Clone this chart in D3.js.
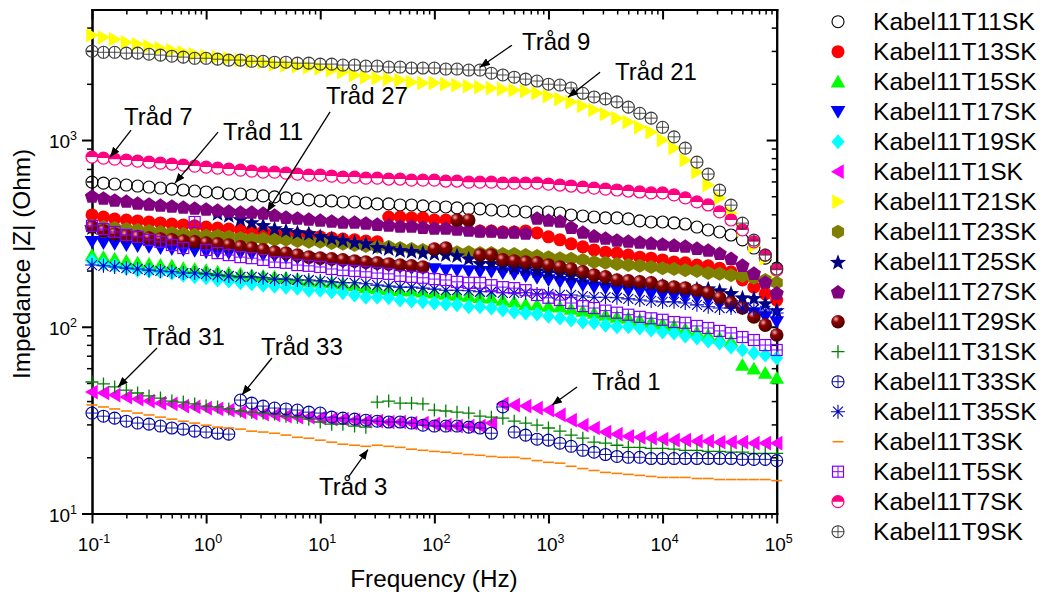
<!DOCTYPE html>
<html>
<head>
<meta charset="utf-8">
<script src="https://cdn.jsdelivr.net/npm/d3@7"></script>
<style>
  body { margin: 0; background: #fff; }
  svg { font-family: "Liberation Sans", Arial, sans-serif; }
</style>
</head>
<body>
<svg id="chart" width="1048" height="599"></svg>
<script>
// frequency grid (Hz), 10 points per decade
const freq = [0.1,0.126,0.158,0.2,0.251,0.316,0.398,0.501,0.631,0.794,
  1,1.26,1.58,2,2.51,3.16,3.98,5.01,6.31,7.94,
  10,12.6,15.8,20,25.1,31.6,39.8,50.1,63.1,79.4,
  100,126,158,200,251,316,398,501,631,794,
  1000,1260,1580,2000,2510,3160,3980,5010,6310,7940,
  10000,12600,15800,20000,25100,31600,39800,50100,63100,79400,100000];

// |Z| in Ohm
const kabel11T11 = [595,588,581,574,567,560,553,546,540,533, 527,521,514,514,508,502,496,490,484,478,
  472,472,466,466,460,455,455,449,449,444, 438,438,433,428,428,422,417,417,412,412,
  412,407,397,392,387,383,383,378,369,364, 364,360,355,342,330,322,310,292,264,233, 206];
const kabel11T13 = [397,387,378,373,369,364,360,355,351,347, 342,338,334,330,326,322,318,314,310,307,
  303,299,295,292,288,285,387,387,383,383, 373,373,369,369,326,326,322,322,326,318,
  303,292,278,268,258,251,248,242,236,233, 228,222,220,214,212,206,197,178,163,150, 139];
const kabel11T15 = [242,236,231,225,220,217,214,212,206,204, 201,197,194,192,189,187,185,183,180,176,
  174,172,170,167,163,161,159,157,156,154, 152,150,148,146,144,143,139,136,132,131,
  129,128,124.5,121.5,118.5,115.6,112.8,111.4,108.7,106, 103.5,101,97.3,93.7,90.3,87,83.9,62.5,59.5,56.6, 53.2];
const kabel11T17 = [285,281,278,274,271,268,264,261,258,255, 251,251,248,248,245,242,239,236,233,231,
  228,225,222,220,217,214,212,209,206,206, 204,201,201,199,197,197,194,192,187,183,
  178,174,170,167,163,161,157,156,154,150, 148,146,144,143,139,134,129,126,118.5,112.8, 106];
const kabel11T19 = [225,217,212,206,201,199,197,194,189,185, 183,178,176,172,170,167,165,163,161,157,
  157,154,152,148,144,144,143,139,137.5,136, 134,132.5,131,128,128,126,123,120,118.5,117,
  114,111.4,108.7,106,105,102,100,100,98.5,96, 93.7,92.6,89.2,87,83.9,81.8,77.9,75.1,72.3,70.6, 68];
const kabel11T1 = [44.7,44.2,43.1,42.0,41.0,40.0,39.0,38.6,37.6,37.2, 36.7,36.3,35.8,34.9,34.5,34.1,33.7,33.2,32.8,32.8,
  32.4,32.0,32.0,31.6,31.2,31.2,30.9,30.9,30.5,30.5, 30.1,29.7,29.4,29.4,29.4,30.5,38.6,38.1,37.6,36.7,
  35.8,33.7,31.6,29.7,28.7,27.3,26.6,25.9,25.6,25.3, 25.0,24.7,24.7,24.4,24.4,24.1,24.1,24.1,23.8,23.8, 23.8];
const kabel11T21 = [3645,3550,3465,3339,3258,3179,3101,3025,2951,2880, 2810,2776,2741,2675,2643,2606,2542,2511,2477,2447,
  2417,2367,2309,2226,2171,2145,2118,2093,2042,2017, 2017,1992,1967,1943,1919,1896,1872,1849,1826,1782,
  1717,1656,1596,1521,1446,1377,1310,1247,1172,1102, 999,905,780,672,574,489,407,330,270,232, 200];
const kabel11T23 = [347,342,338,334,330,326,322,318,314,310, 307,307,303,299,295,295,292,292,288,285,
  285,281,278,274,271,268,268,264,261,258, 258,255,251,251,248,248,245,245,242,239,
  236,233,231,228,222,220,217,214,212,209, 206,204,201,199,194,192,189,187,183,178, 172];
const kabel11T25 = [342,326,314,307,303,299,295,292,288,285, 281,407,397,378,364,351,338,330,322,318,
  307,299,292,285,281,268,264,258,255,251, 248,245,242,233,220,220,214,209,206,201,
  197,194,189,185,183,178,178,174,174,172, 167,163,161,161,161,157,152,144,143,134, 123];
const kabel11T27 = [502,490,478,472,460,455,449,444,438,433, 428,422,417,412,412,407,397,387,383,378,
  373,369,364,364,360,355,351,347,347,342, 338,338,334,330,326,326,322,322,318,383,
  373,369,342,322,307,299,292,288,285,281, 278,274,271,264,258,248,233,214,194,174, 152];
const kabel11T29 = [342,326,314,307,303,299,295,292,288,285, 281,278,274,268,264,258,251,248,242,236,
  233,231,228,225,222,220,217,214,212,209, 261,264,373,373,242,242,228,225,222,220,
  214,209,204,197,189,185,178,176,174,172, 165,163,161,157,152,143,134,126,112.8,102, 90.3];
const kabel11T31 = [50.6,49.4,47.6,45.8,44.2,42.6,41.5,40.0,39.5,38.6, 37.6,37.2,36.3,35.4,34.9,34.5,34.1,33.2,32.8,32.0,
  30.9,30.1,30.1,29.4,29.0,39.5,40.0,39.0,39.0,38.6, 35.8,35.4,34.9,34.5,33.2,32.8,32.4,31.2,30.5,29.7,
  28.7,27.6,26.3,25.3,24.1,23.8,23.2,22.6,22.6,22.3, 22.3,22.1,21.8,21.8,21.5,21.5,21.3,21.3,21.0,21.0, 21.0];
const kabel11T33 = [34.5,33.2,32.4,31.2,30.5,30.1,29.4,28.7,28.3,27.6, 27.3,26.9,26.6,40.5,39.0,37.6,36.7,36.3,35.8,34.9,
  34.5,32.8,32.4,32.0,31.6,31.2,30.9,30.9,30.5,29.7, 29.4,29.4,29.4,29.0,28.7,26.9,37.2,27.3,26.3,25.0,
  24.7,23.8,22.9,21.8,21.3,20.7,20.2,20.0,20.0,19.7, 19.7,19.7,19.7,19.7,19.7,19.7,19.7,19.5,19.5,19.5, 19.2];
const kabel11T35 = [214,212,209,206,204,201,199,197,194,194, 192,189,187,185,185,183,180,180,178,178,
  176,174,172,172,170,167,165,163,163,161, 159,157,157,156,154,154,152,152,152,150,
  150,148,148,146,144,144,143,141,139,137.5, 136,136,134,131,128,126,126,126,124.5,121.5, 118.5];
const kabel11T3 = [38.1,37.2,36.3,35.4,34.5,33.7,32.8,32.0,31.2,30.5, 29.7,29.0,28.7,28.3,27.6,27.3,26.9,26.3,25.6,25.3,
  24.7,24.1,23.5,23.2,22.9,23.2,22.9,22.6,22.1,21.8, 21.5,21.3,21.0,20.7,20.5,20.2,20.0,20.0,19.7,19.2,
  18.8,18.6,17.9,17.4,17.0,16.6,16.4,16.2,16.0,15.8, 15.6,15.6,15.6,15.4,15.4,15.2,15.2,15.2,15.2,15.2, 15.0];
const kabel11T5 = [347,334,322,310,303,292,285,274,264,364, 258,248,242,236,233,228,222,220,214,212,
  209,204,201,199,197,194,192,187,185,183, 180,178,174,172,172,167,163,161,157,148,
  143,139,134,129,126,122,119,116,113,111, 109,106,105,101,98.5,95,92.6,88.1,84.9,79.8, 75.1];
const kabel11T7 = [810,800,790,781,771,762,752,743,734,725, 716,707,699,690,682,673,673,665,657,649,
  649,641,633,633,625,625,618,618,610,610, 610,603,603,595,595,595,588,588,588,588,
  581,574,567,560,553,546,540,533,527,521, 521,508,490,466,449,412,373,330,285,242, 201];
const kabel11T9 = [2990,2950,2950,2920,2920,2880,2850,2810,2780,2740, 2740,2710,2680,2680,2640,2640,2610,2610,2580,2580,
  2550,2550,2520,2520,2490,2490,2460,2460,2430,2430, 2430,2400,2400,2370,2370,2280,2230,2170,2120,2070,
  1990,1970,1900,1780,1700,1660,1600,1500,1390,1310, 1170,1040,905,761,657,539,448,359,291,242, 204];

const seriesNames = ["Kabel11T11SK","Kabel11T13SK","Kabel11T15SK","Kabel11T17SK","Kabel11T19SK","Kabel11T1SK",
  "Kabel11T21SK","Kabel11T23SK","Kabel11T25SK","Kabel11T27SK","Kabel11T29SK","Kabel11T31SK",
  "Kabel11T33SK","Kabel11T35SK","Kabel11T3SK","Kabel11T5SK","Kabel11T7SK","Kabel11T9SK"];
const seriesValues = [kabel11T11,kabel11T13,kabel11T15,kabel11T17,kabel11T19,kabel11T1,
  kabel11T21,kabel11T23,kabel11T25,kabel11T27,kabel11T29,kabel11T31,
  kabel11T33,kabel11T35,kabel11T3,kabel11T5,kabel11T7,kabel11T9];
const seriesColors = ["#000000","#ff0000","#00ff00","#0000ff","#00ffff","#ff00ff",
  "#ffff00","#808000","#000080","#800080","#800000","#008000",
  "#0000a0","#0000c0","#ff8000","#8000ff","#ff0080","#3a3a3a"];
const seriesSymbols = ["circleOpen","circle","triUp","triDown","diamond","triLeft",
  "triRight","hexagon","star","pentagon","sphere","plus",
  "circlePlus","asterisk","dash","squareGrid","halfCircle","circlePlus"];

// annotation labels: arrow tip in data units, tail / text offsets in px
const annotations = [
  {label: "Tråd 7",  f: 0.144, z: 810,  tail: [21, -27],  text: [14, -32]},
  {label: "Tråd 11", f: 0.534, z: 588,  tail: [43, -51],  text: [48, -43]},
  {label: "Tråd 27", f: 3.42,  z: 412,  tail: [63, -100], text: [59, -108]},
  {label: "Tråd 9",  f: 251,   z: 2455, tail: [32, -22],  text: [42, -17]},
  {label: "Tråd 21", f: 1485,  z: 1695, tail: [32, -25],  text: [47, -17]},
  {label: "Tråd 31", f: 0.169, z: 47.6, tail: [39, -39],  text: [25, -42]},
  {label: "Tråd 33", f: 2.06,  z: 43.1, tail: [30, -37],  text: [19, -40]},
  {label: "Tråd 1",  f: 1075,  z: 38.1, tail: [25, -18],  text: [40, -15]},
  {label: "Tråd 3",  f: 26.2,  z: 22.0, tail: [-20, 28],  text: [-49, 45]}
];

const xMajor = [0.1, 1, 10, 100, 1000, 10000, 100000];
const xExp = ["-1", "0", "1", "2", "3", "4", "5"];
const yMajor = [10, 100, 1000];
const yExp = ["1", "2", "3"];

const svg = d3.select("#chart");
const x = d3.scaleLog().domain([0.1, 1e5]).range([92, 776.7]);
const y = d3.scaleLog().domain([10, 5000]).range([513.5, 9.5]);

const xMinor = xMajor.slice(0, -1).flatMap(m => d3.range(2, 10).map(k => m * k));
const yMinor = [10, 100].flatMap(m => d3.range(2, 10).map(k => m * k)).concat([2000, 3000, 4000]);

const defs = svg.append("defs");
const grad = defs.append("radialGradient").attr("id", "sphere")
  .attr("cx", "35%").attr("cy", "30%").attr("r", "70%");
grad.append("stop").attr("offset", "0%").attr("stop-color", "#f0b0b0");
grad.append("stop").attr("offset", "35%").attr("stop-color", "#900000");
grad.append("stop").attr("offset", "100%").attr("stop-color", "#4a0000");
defs.append("marker").attr("id", "arrow")
  .attr("markerUnits", "userSpaceOnUse")
  .attr("markerWidth", 11).attr("markerHeight", 8)
  .attr("refX", 10).attr("refY", 4).attr("orient", "auto")
  .append("path").attr("d", "M0,0L10,4L0,8Z").attr("fill", "#000");

// axes
function styleAxis(g, w) {
  g.select(".domain").attr("stroke-width", 2).attr("stroke-linecap", "square");
  g.selectAll(".tick line").attr("stroke-width", w);
}
function addAxis(axis, tx, ty, w) {
  svg.append("g").attr("transform", `translate(${tx},${ty})`)
    .call(axis.tickSizeOuter(0).tickFormat(""))
    .call(g => styleAxis(g, w));
}
addAxis(d3.axisBottom(x).tickValues(xMajor).tickSize(10), 0, 513.5, 2);
addAxis(d3.axisBottom(x).tickValues(xMinor).tickSize(5), 0, 513.5, 1.5);
addAxis(d3.axisTop(x).tickValues(xMajor).tickSize(-10), 0, 9.5, 2);
addAxis(d3.axisTop(x).tickValues(xMinor).tickSize(-5), 0, 9.5, 1.5);
addAxis(d3.axisLeft(y).tickValues(yMajor).tickSize(10), 92, 0, 2);
addAxis(d3.axisLeft(y).tickValues(yMinor).tickSize(5), 92, 0, 1.5);
addAxis(d3.axisRight(y).tickValues(yMajor).tickSize(-10), 776.7, 0, 2);
addAxis(d3.axisRight(y).tickValues(yMinor).tickSize(-5), 776.7, 0, 1.5);

// tick labels with superscripts
function powLabel(sel, exp) {
  sel.append("tspan").attr("font-size", 19).text("10");
  sel.append("tspan").attr("font-size", 12.5).attr("dy", -8).text(exp);
}
xMajor.forEach((v, i) => {
  svg.append("text").attr("x", x(v) + 2).attr("y", 551).attr("text-anchor", "middle")
    .call(t => powLabel(t, xExp[i]));
});
yMajor.forEach((v, i) => {
  svg.append("text").attr("x", 77).attr("y", y(v) + 8).attr("text-anchor", "end")
    .call(t => powLabel(t, yExp[i]));
});

svg.append("text").attr("x", 434).attr("y", 587).attr("text-anchor", "middle")
  .attr("font-size", 24.3).text("Frequency (Hz)");
svg.append("text").attr("transform", "translate(30,264) rotate(-90)")
  .attr("text-anchor", "middle").attr("font-size", 24.3).text("Impedance |Z| (Ohm)");

// symbols
function polygon(r, n, rot) {
  const pts = d3.range(n).map(i => {
    const a = (rot + i * 360 / n) * Math.PI / 180;
    return [r * Math.cos(a), r * Math.sin(a)];
  });
  return "M" + pts.map(p => p.join(",")).join("L") + "Z";
}
function starPath(ro, ri) {
  const pts = d3.range(10).map(i => {
    const a = (-90 + i * 36) * Math.PI / 180;
    const r = i % 2 ? ri : ro;
    return [r * Math.cos(a), r * Math.sin(a)];
  });
  return "M" + pts.map(p => p.join(",")).join("L") + "Z";
}
function drawSymbol(g, type, color) {
  switch (type) {
    case "circleOpen":
      g.append("circle").attr("r", 6).attr("fill", "none").attr("stroke", color).attr("stroke-width", 1.1); break;
    case "circle":
      g.append("circle").attr("r", 6.5).attr("fill", color); break;
    case "triUp":
      g.append("path").attr("d", polygon(8.5, 3, -90)).attr("transform", "translate(0,1.5)").attr("fill", color); break;
    case "triDown":
      g.append("path").attr("d", polygon(8.5, 3, 90)).attr("transform", "translate(0,-1.5)").attr("fill", color); break;
    case "triLeft":
      g.append("path").attr("d", polygon(8.5, 3, 180)).attr("transform", "translate(1.5,0)").attr("fill", color); break;
    case "triRight":
      g.append("path").attr("d", polygon(8.5, 3, 0)).attr("transform", "translate(-1.5,0)").attr("fill", color); break;
    case "diamond":
      g.append("path").attr("d", "M0,-7.5L6.5,0L0,7.5L-6.5,0Z").attr("fill", color); break;
    case "hexagon":
      g.append("path").attr("d", polygon(7, 6, 90)).attr("fill", color); break;
    case "pentagon":
      g.append("path").attr("d", polygon(7.5, 5, -90)).attr("transform", "translate(0,0.8)").attr("fill", color); break;
    case "star":
      g.append("path").attr("d", starPath(8.5, 3.5)).attr("transform", "translate(0,1)").attr("fill", color); break;
    case "sphere":
      g.append("circle").attr("r", 6.8).attr("fill", "url(#sphere)"); break;
    case "plus":
      g.append("path").attr("d", "M-6.5,0H6.5M0,-6.5V6.5").attr("stroke", color).attr("stroke-width", 1.3); break;
    case "circlePlus":
      g.append("circle").attr("r", 6).attr("fill", "none").attr("stroke", color).attr("stroke-width", 1.1);
      g.append("path").attr("d", "M-6,0H6M0,-6V6").attr("stroke", color).attr("stroke-width", 0.9); break;
    case "asterisk":
      g.append("path").attr("d", "M-7,0H7M0,-7V7M-5,-5L5,5M-5,5L5,-5").attr("stroke", color).attr("stroke-width", 1.1); break;
    case "dash":
      g.append("path").attr("d", "M-5.5,0H5.5").attr("stroke", color).attr("stroke-width", 1.6); break;
    case "squareGrid":
      g.append("rect").attr("x", -5.5).attr("y", -5.5).attr("width", 11).attr("height", 11)
        .attr("fill", "none").attr("stroke", color).attr("stroke-width", 1.2);
      g.append("path").attr("d", "M-5.5,0H5.5M0,-5.5V5.5").attr("stroke", color).attr("stroke-width", 1); break;
    case "halfCircle":
      g.append("circle").attr("r", 6).attr("fill", "#fff").attr("stroke", color).attr("stroke-width", 1.2);
      g.append("path").attr("d", "M-6,0A6,6 0 0 1 6,0Z").attr("fill", color); break;
  }
}

const plot = svg.append("g");
seriesValues.forEach((vals, s) => {
  plot.append("g").selectAll("g").data(vals).join("g")
    .attr("transform", (d, i) => `translate(${x(freq[i])},${y(d)})`)
    .each(function () { drawSymbol(d3.select(this), seriesSymbols[s], seriesColors[s]); });
});

// annotations
const ann = svg.append("g");
annotations.forEach(a => {
  const tx = x(a.f), ty = y(a.z);
  ann.append("line")
    .attr("x1", tx + a.tail[0]).attr("y1", ty + a.tail[1])
    .attr("x2", tx).attr("y2", ty)
    .attr("stroke", "#000").attr("stroke-width", 1.3).attr("marker-end", "url(#arrow)");
  ann.append("text").attr("x", tx + a.text[0]).attr("y", ty + a.text[1])
    .attr("font-size", 24).text(a.label);
});

// legend
const legend = svg.append("g");
seriesNames.forEach((name, s) => {
  const cy = 21.7 + s * 30;
  const g = legend.append("g").attr("transform", `translate(838,${cy})`);
  drawSymbol(g, seriesSymbols[s], seriesColors[s]);
  legend.append("text").attr("x", 873).attr("y", cy + 8.5).attr("font-size", 24.6).text(name);
});
</script>
</body>
</html>
